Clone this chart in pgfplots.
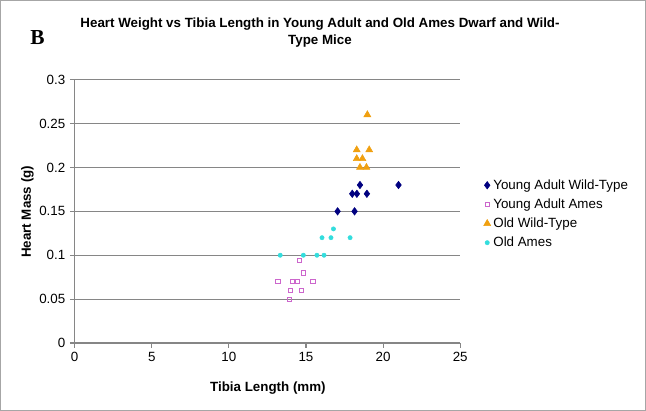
\documentclass[border=0pt]{standalone}
\usepackage{pgfplots}
\pgfplotsset{compat=1.18}
\usepackage{fontspec}
\setmainfont{Liberation Sans}
\newfontfamily\seriffont{Liberation Serif}
\definecolor{ywt}{HTML}{000080}
\definecolor{yames}{HTML}{CC66CC}
\definecolor{owt}{HTML}{F0A010}
\definecolor{oames}{HTML}{33DDDD}
\definecolor{axgray}{HTML}{868686}
\begin{document}
\begin{tikzpicture}[x=0.75pt,y=0.75pt]
\begin{axis}[
  at={(0,0)}, anchor=south west,
  scale only axis,
  width=288.75pt, height=197.25pt,
  xmin=0, xmax=25, ymin=0, ymax=0.3,
  xtick={0,5,...,25},
  ytick={0,0.05,...,0.3},
  yticklabels={0,0.05,0.1,0.15,0.2,0.25,0.3},
  /pgf/number format/assume math mode=true,
  tick label style={font=\fontsize{10}{12}\selectfont},
  axis x line*=bottom, axis y line*=left,
  axis line style={axgray, line width=0.9pt, -},
  ymajorgrids, grid style={axgray, line width=0.9pt},
  tick style={axgray, line width=0.8pt},
  tick align=outside, major tick length=3.5pt,
  clip=false,
  legend style={at={(rel axis cs:1.05,0.49)}, anchor=west, draw=none,
    font=\fontsize{10}{12}\selectfont, row sep=1.6pt,
    legend cell align=left},
  legend image code/.code={\draw[mark repeat=2,mark phase=2] plot coordinates {(0cm,0cm) (0.15cm,0cm) (0.3cm,0cm)};},
]
\addplot[only marks, mark=diamond*, mark size=2.8pt, color=ywt] coordinates {
(18.5,0.18) (21,0.18) (18,0.17) (18.3,0.17) (18.95,0.17) (17.05,0.15) (18.15,0.15)
};
\addlegendentry{Young Adult Wild-Type}
\addplot[only marks, mark=square, mark size=1.6pt, color=yames, mark options={line width=0.6pt}] coordinates {
(14.57,0.094) (14.83,0.08) (13.18,0.07) (14.13,0.07) (14.44,0.07) (15.45,0.07) (13.98,0.06) (14.7,0.06) (13.92,0.05)
};
\addlegendentry{Young Adult Ames}
\addplot[only marks, mark=triangle*, mark size=3pt, color=owt] coordinates {
(18.98,0.26) (18.29,0.22) (19.1,0.22) (18.29,0.21) (18.66,0.21) (18.5,0.20) (18.92,0.20)
};
\addlegendentry{Old Wild-Type}
\addplot[only marks, mark=*, mark size=1.6pt, color=oames] coordinates {
(16.78,0.13) (16.04,0.12) (16.62,0.12) (17.86,0.12) (13.33,0.10) (14.83,0.10) (15.71,0.10) (16.17,0.10)
};
\addlegendentry{Old Ames}
\end{axis}
% frame
\draw[gray!70, line width=0.8pt] (-74,-67) rectangle (570,342);
% title
\node[align=center, font=\bfseries\fontsize{10}{13}\selectfont] at (245,310) {Heart Weight vs Tibia Length in Young Adult and Old Ames Dwarf and Wild-\\Type Mice};
\node[font=\seriffont\bfseries\fontsize{16}{18}\selectfont] at (-37,305) {B};
% axis labels
\node[font=\bfseries\fontsize{10}{12}\selectfont, rotate=90] at (-47,131) {Heart Mass (g)};
\node[font=\bfseries\fontsize{10}{12}\selectfont] at (193,-45) {Tibia Length (mm)};
\end{tikzpicture}
\end{document}
